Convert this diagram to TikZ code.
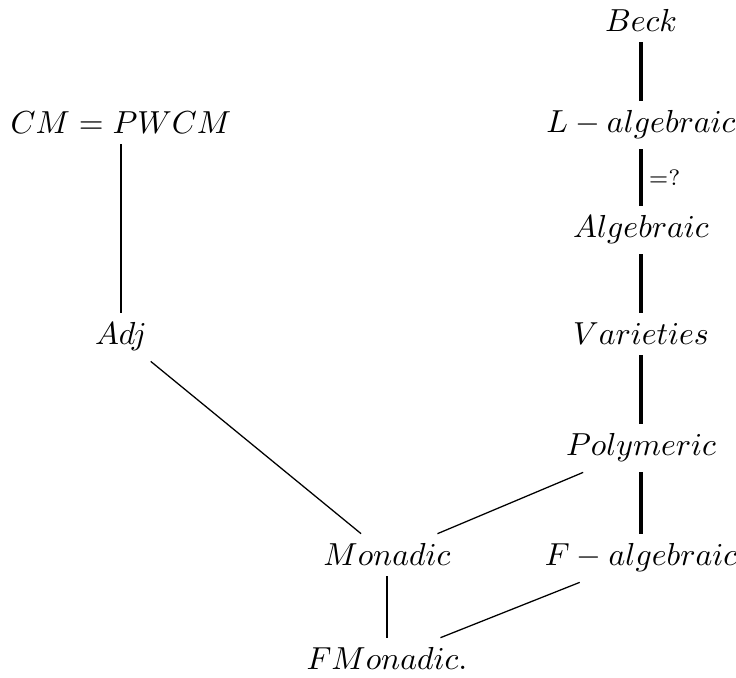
\documentclass[tikz,border=0pt]{standalone}
\begin{document}
\begin{tikzpicture}[x=0.314pt,y=-0.314pt,
  obj/.style={inner sep=3pt,anchor=base},
  thickline/.style={line width=0.95pt},
  midline/.style={line width=0.6pt},
  thinline/.style={line width=0.4pt}]
\useasboundingbox (0,0) rectangle (736,678);
\node[obj] (beck) at (641,32) {$Beck$};
\node[obj] (lalg) at (641,133) {$L-algebraic$};
\node[obj] (alg) at (641,238) {$Algebraic$};
\node[obj] (var) at (641,345) {$Varieties$};
\node[obj] (poly) at (641,456) {$Polymeric$};
\node[obj] (falg) at (641,566) {$F-algebraic$};
\node[obj] (cm) at (121,134) {$CM=PWCM$};
\node[obj] (adj) at (121,345) {$Adj$};
\node[obj] (mon) at (387,566) {$Monadic$};
\node[obj] (fmon) at (387,670) {$FMonadic.$};
\draw[thickline] (beck) -- (lalg);
\draw[thickline] (lalg) -- node[right,inner sep=2pt]{$\scriptstyle =?$} (alg);
\draw[thickline] (alg) -- (var);
\draw[thickline] (var) -- (poly);
\draw[thickline] (poly) -- (falg);
\draw[midline] (cm) -- (adj);
\draw[midline] (mon) -- (fmon);
\draw[thinline] (adj) -- (mon);
\draw[thinline] (poly) -- (mon);
\draw[thinline] (falg) -- (fmon);
\end{tikzpicture}
\end{document}
